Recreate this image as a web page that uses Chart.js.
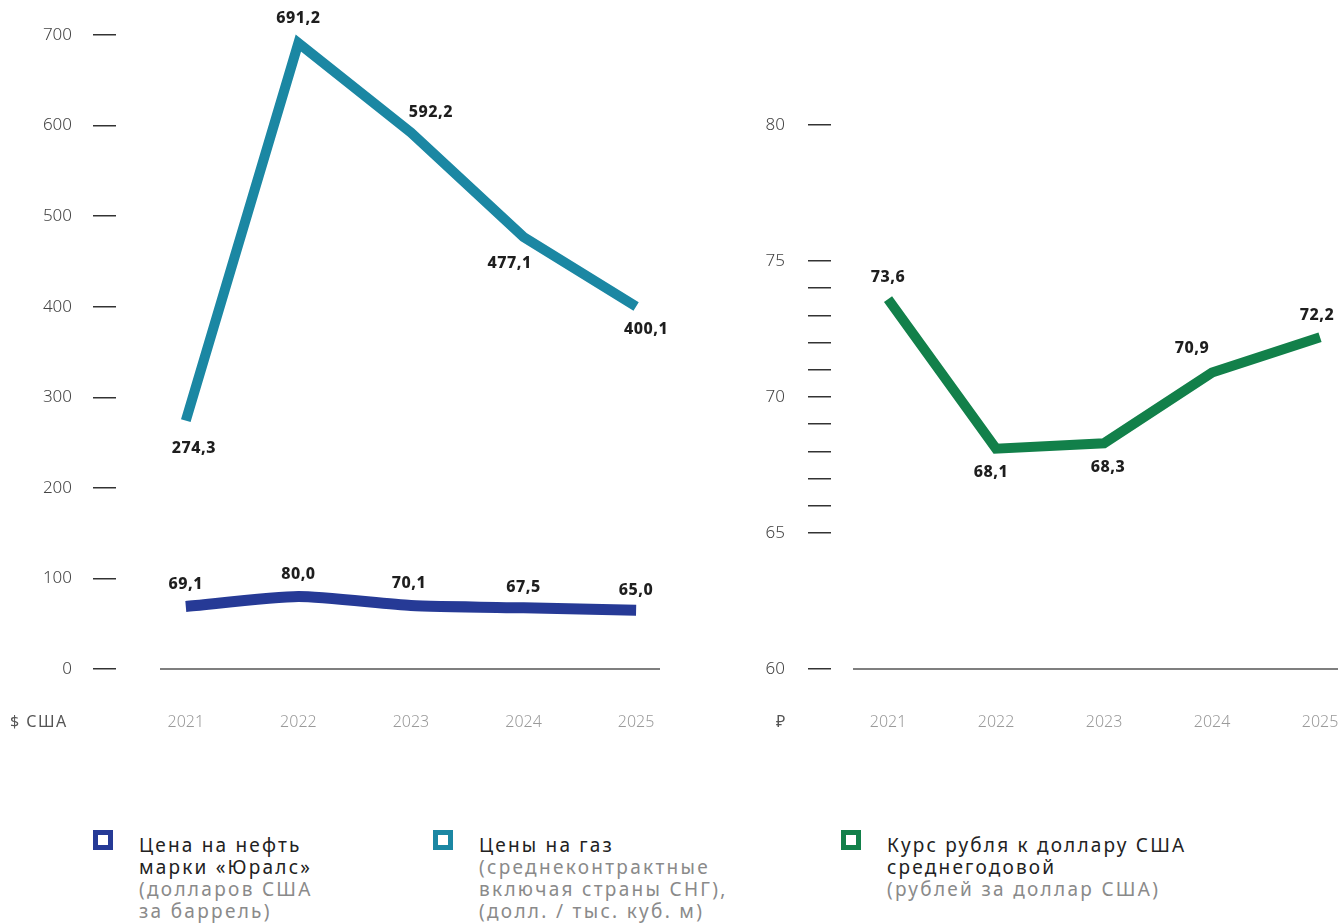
<!DOCTYPE html>
<html lang="ru">
<head>
<meta charset="utf-8">
<script src="https://cdn.jsdelivr.net/npm/chart.js@4/dist/chart.umd.min.js"></script>
<style>
    html, body { margin: 0; padding: 0; background: #fff; overflow: hidden; width: 1338px; height: 924px; }
    body { position: relative; font-family: 'Noto Sans', sans-serif; }
    .cv { position: absolute; top: 0; }
    #cvLeft  { left: 0;   width: 700px; height: 760px; }
    #cvRight { left: 740px; width: 660px; height: 760px; }
    .unit { position: absolute; top: 710px; font-size: 16px; color: #555; letter-spacing: 1.5px; }
    .leg { position: absolute; top: 834px; font-size: 19px; line-height: 22px; color: #222; letter-spacing: 2.2px; white-space: nowrap; }
    .leg .sq { position: absolute; left: -46px; top: -4px; width: 10px; height: 10px; border: 5px solid; }
    .leg .g { color: #8a8a8a; letter-spacing: 2.3px; }
</style>
</head>
<body>
<canvas id="cvLeft" class="cv" width="700" height="760"></canvas>
<canvas id="cvRight" class="cv" width="660" height="760"></canvas>

<div class="unit" style="left:10px">$ США</div>
<div class="unit" style="left:776px">₽</div>

<div class="leg" style="left:139px"><span class="sq" style="border-color:#263a96"></span>Цена на нефть<br>марки «Юралс»<br><span class="g">(долларов США<br>за баррель)</span></div>
<div class="leg" style="left:479px"><span class="sq" style="border-color:#1b87a3"></span>Цены на газ<br><span class="g">(среднеконтрактные<br>включая страны СНГ),<br>(долл. / тыс. куб. м)</span></div>
<div class="leg" style="left:887px"><span class="sq" style="border-color:#12804a"></span>Курс рубля к доллару США<br>среднегодовой<br><span class="g">(рублей за доллар США)</span></div>

<script>
// Données
var annees      = [2021, 2022, 2023, 2024, 2025];
var petrole     = [69.1, 80.0, 70.1, 67.5, 65.0];
var gaz         = [274.3, 691.2, 592.2, 477.1, 400.1];
var rouble      = [73.6, 68.1, 68.3, 70.9, 72.2];
var ticksGauche = [0, 100, 200, 300, 400, 500, 600, 700];
var ticksDroite = [60, 65, 66, 67, 68, 69, 70, 71, 72, 73, 74, 75, 80];

// Décalages des étiquettes de valeur (style)
var decalPetrole = [[0, -22], [0, -22], [-2, -22], [0, -20], [0, -20]];
var decalGaz     = [[8, 28], [0, -25], [20, -20], [-14, 27], [10, 23]];
var decalRouble  = [[0, -22], [-5, 24], [4, 24], [-20, -24], [-3, -22]];

var POLICE = "'Noto Sans', sans-serif";

function points(ys) {
    return annees.map(function (a, i) { return { x: a, y: ys[i] }; });
}

function fmt(v) { return v.toFixed(1).replace('.', ','); }

// Étiquettes de valeur au-dessus / au-dessous des points
var etiquettes = {
    id: 'etiquettes',
    afterDatasetsDraw: function (chart) {
        var ctx = chart.ctx;
        ctx.save();
        ctx.font = '800 16px ' + POLICE;
        ctx.fillStyle = '#1e1e1e';
        ctx.textAlign = 'center';
        ctx.textBaseline = 'middle';
        if ('letterSpacing' in ctx) { ctx.letterSpacing = '0.5px'; }
        chart.data.datasets.forEach(function (ds, di) {
            var meta = chart.getDatasetMeta(di);
            meta.data.forEach(function (pt, i) {
                var d = ds.decal[i];
                ctx.fillText(fmt(ds.data[i].y), pt.x + d[0], pt.y + d[1]);
            });
        });
        ctx.restore();
    }
};

// Ligne de base (part de baseX jusqu'au bord droit)
var ligneBase = {
    id: 'ligneBase',
    beforeDatasetsDraw: function (chart, args, opts) {
        var ctx = chart.ctx;
        var y = chart.scales.y.getPixelForValue(chart.scales.y.min);
        ctx.save();
        ctx.strokeStyle = '#555';
        ctx.lineWidth = 1.5;
        ctx.beginPath();
        ctx.moveTo(opts.depart, y);
        ctx.lineTo(opts.fin || chart.width, y);
        ctx.stroke();
        ctx.restore();
    }
};

function options(cfg) {
    return {
        responsive: false,
        animation: false,
        layout: { padding: { top: cfg.haut, right: cfg.droite, left: 0, bottom: 0 } },
        plugins: {
            legend: { display: false },
            tooltip: { enabled: false },
            ligneBase: { depart: cfg.baseDepart, fin: cfg.baseFin }
        },
        scales: {
            x: {
                type: 'linear',
                min: cfg.xmin,
                max: cfg.xmax,
                afterBuildTicks: function (s) { s.ticks = annees.map(function (a) { return { value: a }; }); },
                afterFit: function (s) { s.height = 91; },
                grid: { display: false, drawTicks: false },
                border: { display: false },
                ticks: {
                    padding: 44,
                    color: '#9a9a9a',
                    font: { family: POLICE, size: 16, weight: '300' },
                    callback: function (v) { return String(v); }
                }
            },
            y: {
                min: cfg.ymin,
                max: cfg.ymax,
                afterBuildTicks: function (s) { s.ticks = cfg.ticks.map(function (v) { return { value: v }; }); },
                afterFit: function (s) { s.width = cfg.largeurY; },
                grid: { drawOnChartArea: false, drawTicks: true, tickLength: 23, color: '#333', lineWidth: 1.5 },
                border: { display: false },
                ticks: {
                    padding: cfg.padY,
                    autoSkip: false,
                    color: '#444',
                    font: { family: POLICE, size: 17, weight: '300' },
                    callback: function (v) { return v % cfg.pasLabel === 0 ? String(v) : ''; }
                }
            }
        }
    };
}

function serie(data, couleur, decal, tension, epaisseur) {
    return {
        data: points(data),
        borderColor: couleur,
        borderWidth: epaisseur,
        pointRadius: 0,
        tension: tension,
        borderJoinStyle: 'miter',
        borderCapStyle: 'butt',
        decal: decal,
        clip: false
    };
}

new Chart(document.getElementById('cvLeft'), {
    type: 'line',
    data: {
        datasets: [
            serie(gaz, '#1b87a3', decalGaz, 0, 10),
            serie(petrole, '#263a96', decalPetrole, 0.2, 11)
        ]
    },
    options: options({
        haut: 35, droite: 40, largeurY: 116, padY: 21,
        xmin: 2020.38, xmax: 2025.195,
        ymin: 0, ymax: 700, ticks: ticksGauche, pasLabel: 100,
        baseDepart: 160, baseFin: 660
    }),
    plugins: [ligneBase, etiquettes]
});

new Chart(document.getElementById('cvRight'), {
    type: 'line',
    data: {
        datasets: [serie(rouble, '#12804a', decalRouble, 0, 10)]
    },
    options: options({
        haut: 125, droite: 40, largeurY: 91, padY: 23,
        xmin: 2020.472, xmax: 2025.37,
        ymin: 60, ymax: 80, ticks: ticksDroite, pasLabel: 5,
        baseDepart: 113, baseFin: 0
    }),
    plugins: [ligneBase, etiquettes]
});
</script>
</body>
</html>
